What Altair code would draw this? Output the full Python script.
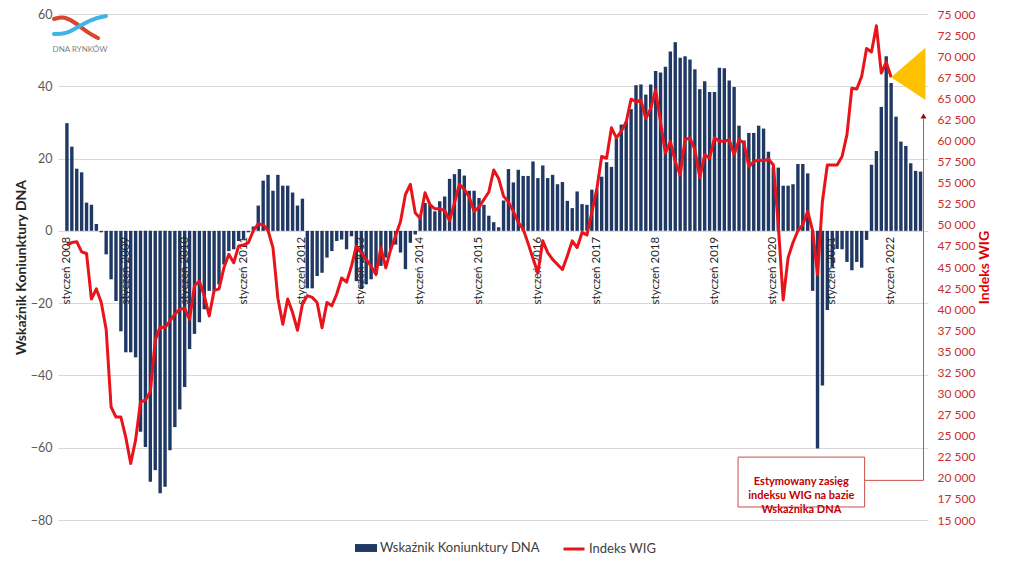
import altair as alt
import pandas as pd

# ---------------- data ----------------
months = [f"{y}-{m:02d}" for y in range(2008, 2023) for m in range(1, 13)][:175]

dna = [
    29.8, 23.3, 17.2, 16.2, 7.8, 7.2, 1.9, -0.4, -6.5, -13.4, -19.4, -27.8,          # 2008
    -33.6, -33.6, -35.0, -55.6, -59.8, -69.4, -66.2, -72.6, -70.8, -60.7, -54.3, -49.4,  # 2009
    -43.2, -32.7, -28.5, -25.3, -21.7, -16.6, -16.6, -14.8, -9.3, -5.6, -5.1, -2.8,   # 2010
    -2.3, -0.4, 1.2, 7.0, 13.9, 15.5, 11.1, 15.5, 12.5, 12.5, 10.6, 7.0,              # 2011
    8.9, -15.9, -15.9, -12.5, -11.6, -7.4, -5.6, -2.8, -2.4, -5.1, -1.5, -13.9,       # 2012
    -16.1, -14.8, -13.4, -12.0, -9.7, -7.4, -5.1, -3.8, -6.0, -10.6, -3.3, -1.0,      # 2013
    4.0, 7.7, 7.2, 5.4, 8.2, 9.5, 14.4, 15.7, 17.1, 15.3, 11.1, 11.1,                 # 2014
    9.1, 7.2, 4.2, 2.4, 1.0, 8.4, 17.1, 13.4, 16.9, 15.2, 15.2, 19.2,                 # 2015
    14.6, 18.1, 14.6, 15.5, 12.9, 13.5, 8.3, 6.3, 10.9, 7.4, 7.2, 11.4,               # 2016
    11.4, 15.0, 19.0, 17.7, 25.6, 29.4, 30.2, 33.7, 40.3, 40.5, 37.7, 40.5,           # 2017
    44.2, 43.8, 45.4, 49.6, 52.2, 47.9, 48.3, 47.4, 44.7, 39.2, 41.4, 38.4,           # 2018
    38.4, 45.1, 45.0, 41.6, 39.8, 29.1, 25.0, 27.1, 27.1, 29.1, 28.3, 21.9,           # 2019
    17.6, 17.5, 12.5, 12.5, 12.9, 18.5, 18.5, 15.9, -16.6, -60.2, -42.8, -21.9,       # 2020
    -10.0, -5.0, -5.1, -8.6, -10.9, -8.6, -10.2, -2.5, 18.3, 22.1, 34.3, 48.3,        # 2021
    40.9, 31.6, 24.7, 23.5, 18.7, 16.6, 16.4,                                         # 2022
]

wig = [
    47600, 47900, 48000, 46800, 46600, 41200, 42400, 40800, 37600, 28400, 27200, 27200,  # 2008
    24800, 21700, 24500, 29000, 29200, 30200, 36300, 37900, 37800, 38600, 39400, 40000,  # 2009
    40100, 38800, 42800, 43300, 41600, 39200, 42200, 42400, 44900, 46500, 45500, 47500,  # 2010
    47600, 47900, 49300, 50100, 50000, 49300, 47300, 41300, 38200, 41200, 39600, 37500,  # 2011
    40600, 41600, 41400, 40800, 37800, 40800, 40400, 41800, 43700, 43200, 45100, 47500,  # 2012
    46700, 45900, 45100, 44100, 47300, 44900, 47100, 48700, 50400, 53600, 54800, 51400,  # 2013
    50800, 53800, 52400, 51900, 51900, 51700, 50500, 52600, 54800, 54200, 53300, 51600,  # 2014
    52100, 53000, 53900, 56500, 55500, 53400, 52700, 51600, 50300, 49500, 47800, 46000,  # 2015
    44300, 48100, 46700, 45900, 45300, 44700, 46300, 48100, 47300, 49100, 48800, 51500,  # 2016
    54200, 58100, 57900, 61500, 60300, 61100, 62200, 64900, 64600, 64800, 62600, 63800,  # 2017
    66000, 62200, 58500, 59900, 57500, 55900, 60100, 60300, 58900, 55600, 58300, 57900,  # 2018
    60300, 59900, 59900, 60100, 58300, 60100, 59700, 56900, 57500, 57700, 57600, 57800,  # 2019
    57100, 50000, 41100, 46100, 47900, 49300, 50000, 51600, 49300, 44100, 52800, 57100,  # 2020
    57100, 57100, 58100, 60700, 66200, 66100, 67600, 70900, 70500, 73600, 68000, 69300,  # 2021
    67500,                                                                               # 2022
]

year_labels = [f"styczeń {y}" for y in range(2008, 2023)]
year_idx = [12 * k for k in range(len(year_labels))]

left_ticks = list(range(-80, 61, 20))
right_ticks = list(range(15000, 75001, 2500))

# estimated WIG range (orange triangle) and annotation
est_idx = [168, 175]
est_low = [67500, 64800]
est_high = [67500, 71000]
arrow_idx = 174.6
arrow_from = 19700
arrow_to = 62600
box_idx = [136.8, 162.6]
box_dna = [-62.6, -76.4]
box_text = ["Estymowany zasięg", "indeksu WIG na bazie", "Wskaźnika DNA"]

# logo swooshes (decorative, pixel coordinates inside the plot group)
logo_red_x = [-4, 6, 18, 30, 40]
logo_red_y = [5, 2, 9, 19, 24]
logo_blue_x = [-4, 8, 20, 34, 48]
logo_blue_y = [20, 20, 13, 5, 2]

BAR_NAME = "Wskaźnik Koniunktury DNA"
LINE_NAME = "Indeks WIG"

df_bar = pd.DataFrame({"idx": list(range(len(dna))), "month": months[:len(dna)], "dna": dna, "series": BAR_NAME})
df_line = pd.DataFrame({"idx": list(range(len(wig))), "month": months[:len(wig)], "wig": wig, "series": LINE_NAME})
df_lab = pd.DataFrame({"idx": year_idx, "label": year_labels})
df_est = pd.DataFrame({"idx": est_idx, "low": est_low, "high": est_high})
df_logo = pd.DataFrame({
    "px": logo_red_x + logo_blue_x,
    "py": logo_red_y + logo_blue_y,
    "part": ["red"] * len(logo_red_x) + ["blue"] * len(logo_blue_x),
    "ord": list(range(len(logo_red_x))) + list(range(len(logo_blue_x))),
})

FONT = "Lato"
NAVY = "#203864"
RED = "#E8141B"
DARKRED = "#C00000"

x_scale = alt.Scale(domain=[-0.8, 174.5], nice=False, zero=False)
left_scale = alt.Scale(domain=[-80, 60], nice=False)
right_scale = alt.Scale(domain=[15000, 75000], nice=False, zero=False)

X = alt.X("idx:Q", scale=x_scale, axis=None)

bars = alt.Chart(df_bar).mark_bar(size=3.4).encode(
    x=X,
    y=alt.Y("dna:Q", scale=left_scale, stack=None,
            axis=alt.Axis(values=left_ticks, title=BAR_NAME, titleFont=FONT, titleFontSize=14,
                          titleFontWeight="bold", titleColor="#262626", titlePadding=2,
                          labelFont=FONT, labelFontSize=12.5, labelColor="#595959", labelPadding=6,
                          ticks=False, domain=False, grid=True, gridColor="#D9D9D9")),
    y2=alt.datum(0),
    fill=alt.Fill("series:N", scale=alt.Scale(domain=[BAR_NAME], range=[NAVY]),
                  legend=alt.Legend(title=None, orient="none", legendX=297, legendY=523,
                                    symbolType="M-1,-0.36H1V0.36H-1Z", symbolSize=484,
                                    symbolStrokeWidth=0, labelFont=FONT, labelFontSize=13,
                                    labelColor="#404040", labelOffset=3, padding=0)),
)

labels = alt.Chart(df_lab).mark_text(angle=270, align="right", baseline="middle", dx=-6,
                                     font=FONT, fontSize=11.5, color="#262626").encode(
    x=X,
    y=alt.Y(datum=0, scale=left_scale, axis=None),
    text="label:N",
)

line = alt.Chart(df_line).mark_line(strokeWidth=3, strokeJoin="round").encode(
    x=X,
    y=alt.Y("wig:Q", scale=right_scale,
            axis=alt.Axis(orient="right", values=right_ticks,
                          labelExpr="replace(format(datum.value, ','), ',', ' ')",
                          grid=False, ticks=False, domain=False, labelPadding=9,
                          labelFont=FONT, labelFontSize=12, labelColor="#C9302C",
                          title=LINE_NAME, titleFont=FONT, titleFontSize=14, titleFontWeight="bold",
                          titleColor="#E00000", titleAngle=270, titleBaseline="top", titlePadding=3)),
    stroke=alt.Stroke("series:N", scale=alt.Scale(domain=[LINE_NAME], range=[RED]),
                      legend=alt.Legend(title=None, orient="none", legendX=504, legendY=523,
                                        symbolType="stroke", symbolSize=441, symbolStrokeWidth=3,
                                        labelFont=FONT, labelFontSize=13, labelColor="#404040",
                                        labelOffset=3, padding=0)),
)

tri = alt.Chart(df_est).mark_area(color="#FFC000", opacity=1).encode(
    x=X,
    y=alt.Y("low:Q", scale=right_scale, axis=None),
    y2="high:Q",
)

one = alt.Data(values=[{}])

vrule = alt.Chart(one).mark_rule(color="#C8504A", strokeWidth=1).encode(
    x=alt.datum(arrow_idx),
    y=alt.Y(datum=arrow_from, scale=right_scale, axis=None),
    y2=alt.datum(arrow_to),
)
hrule = alt.Chart(one).mark_rule(color="#C8504A", strokeWidth=1).encode(
    x=alt.datum(box_idx[1]),
    x2=alt.datum(arrow_idx),
    y=alt.Y(datum=arrow_from, scale=right_scale, axis=None),
)
head = alt.Chart(one).mark_point(shape="triangle-up", filled=True, size=35, color="#A00000", opacity=1).encode(
    x=alt.datum(arrow_idx),
    y=alt.Y(datum=arrow_to + 300, scale=right_scale, axis=None),
)
box = alt.Chart(one).mark_rect(fill="white", stroke="#C8504A", strokeWidth=1).encode(
    x=alt.datum(box_idx[0]),
    x2=alt.datum(box_idx[1]),
    y=alt.Y(datum=box_dna[0], scale=left_scale, axis=None),
    y2=alt.datum(box_dna[1]),
)
box_label = alt.Chart(one).mark_text(text=box_text, font=FONT, fontSize=11, fontWeight="bold",
                                     color=DARKRED, lineHeight=14, align="center",
                                     baseline="middle").encode(
    x=alt.datum((box_idx[0] + box_idx[1]) / 2),
    y=alt.Y(datum=(box_dna[0] + box_dna[1]) / 2, scale=left_scale, axis=None),
)
logo_lines = alt.Chart(df_logo).mark_line(strokeWidth=4, interpolate="basis", strokeCap="round").encode(
    x=alt.X("px:Q", scale=None, axis=None),
    y=alt.Y("py:Q", scale=None, axis=None),
    order="ord:Q",
    detail="part:N",
    color=alt.Color("part:N", scale=alt.Scale(domain=["red", "blue"], range=["#D9472B", "#3FB4E5"]),
                    legend=None),
)
logo = alt.Chart(one).mark_text(text="DNA RYNKÓW", font=FONT, fontSize=8, color="#7F7F7F",
                                align="center").encode(
    x=alt.value(22), y=alt.value(36),
)

chart = alt.layer(
    bars, labels, line, tri, vrule, hrule, head, box, box_label, logo_lines, logo
).resolve_scale(y="independent").properties(
    width=870, height=506,
    padding={"left": 50, "top": 6, "right": 88, "bottom": 57},
    autosize=alt.AutoSizeParams(type="none"),
).configure(font=FONT).configure_view(stroke=None)

chart.save("out.html", embed_options={"renderer": "svg", "actions": False})
